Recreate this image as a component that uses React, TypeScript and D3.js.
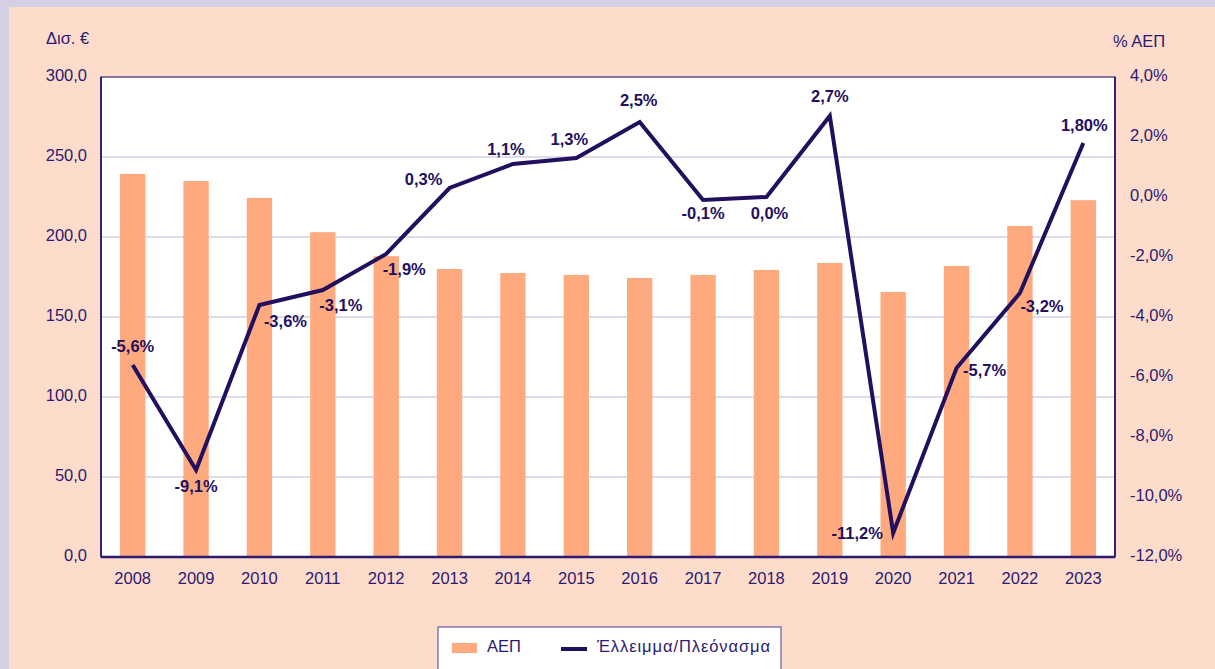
import { useEffect, useRef } from "react";
import * as d3 from "d3";

const years = ["2008", "2009", "2010", "2011", "2012", "2013", "2014", "2015", "2016", "2017", "2018", "2019", "2020", "2021", "2022", "2023"];
const gdp = [239.4, 235.0, 224.4, 203.0, 188.0, 180.0, 177.5, 176.3, 174.4, 176.3, 179.4, 183.8, 165.6, 181.9, 206.9, 223.0];
const balance = [-5.6, -9.1, -3.6, -3.1, -1.9, 0.3, 1.1, 1.3, 2.5, -0.1, 0.0, 2.7, -11.2, -5.7, -3.2, 1.8];
const balanceLabels = ["-5,6%", "-9,1%", "-3,6%", "-3,1%", "-1,9%", "0,3%", "1,1%", "1,3%", "2,5%", "-0,1%", "0,0%", "2,7%", "-11,2%", "-5,7%", "-3,2%", "1,80%"];
const leftTicks = [0, 50, 100, 150, 200, 250, 300];
const rightTicks = [-12, -10, -8, -6, -4, -2, 0, 2, 4];

// label placement relative to the point (layout only)
const labelOffsets: [number, number][] = [
  [0, -17], [0, 18], [26, 18], [18, 17], [18, 17], [-26, -7], [-7, -13], [-7, -17],
  [-1, -20], [0, 15], [3, 18], [0, -18], [-36, 2], [28, 4], [22, 15], [1, -16],
];

const W = 1215;
const H = 669;
const ink = "#2b1a6f";
const lineColor = "#22105f";
const barColor = "#ffa97f";
const font = "Liberation Sans, Arial, Helvetica, sans-serif";
const fs = 16.5;

const fmt = (d: number) => d3.format(".1f")(d).replace(".", ",").replace("−", "-");

export default function App() {
  const ref = useRef<SVGSVGElement>(null);

  useEffect(() => {
    const margin = { top: 77, right: 100, bottom: 112, left: 101 };
    const iw = W - margin.left - margin.right;
    const ih = H - margin.top - margin.bottom;

    const svg = d3.select(ref.current);
    svg.selectAll("*").remove();

    // background
    svg.append("rect").attr("width", W).attr("height", H).attr("fill", "#d5cfe6");
    svg.append("rect").attr("x", 9).attr("y", 7).attr("width", W - 9).attr("height", H - 7).attr("fill", "#fedccc");

    const chart = svg.append("g").attr("transform", `translate(${margin.left},${margin.top})`);
    chart.append("rect").attr("width", iw).attr("height", ih).attr("fill", "#fff");

    const x = d3.scaleBand().domain(years).range([0, iw]).paddingInner(0.6).paddingOuter(0.3);
    const yL = d3.scaleLinear().domain([0, 300]).range([ih, 0]);
    const yR = d3.scaleLinear().domain([-12, 4]).range([ih, 0]);

    // gridlines
    chart.selectAll(".grid").data(leftTicks.slice(1, -1)).enter().append("line")
      .attr("x1", 0).attr("x2", iw)
      .attr("y1", (d) => yL(d)).attr("y2", (d) => yL(d))
      .attr("stroke", "#d3cfe3").attr("stroke-width", 1.5);

    // bars
    chart.selectAll(".bar").data(gdp).enter().append("rect")
      .attr("x", (_, i) => x(years[i])!)
      .attr("y", (d) => yL(d))
      .attr("width", x.bandwidth())
      .attr("height", (d) => ih - yL(d))
      .attr("fill", barColor);

    // frame
    chart.append("rect").attr("width", iw).attr("height", ih).attr("fill", "none")
      .attr("stroke", "#3d2c80").attr("stroke-width", 1.2);
    chart.append("line").attr("x1", 0).attr("x2", iw).attr("y1", ih).attr("y2", ih)
      .attr("stroke", ink).attr("stroke-width", 2.5);
    chart.append("line").attr("x1", 0).attr("x2", 0).attr("y1", 0).attr("y2", ih)
      .attr("stroke", ink).attr("stroke-width", 1.8);
    chart.append("line").attr("x1", iw).attr("x2", iw).attr("y1", 0).attr("y2", ih)
      .attr("stroke", ink).attr("stroke-width", 1.8);

    // line
    const cx = (i: number) => x(years[i])! + x.bandwidth() / 2;
    const line = d3.line<number>().x((_, i) => cx(i)).y((d) => yR(d));
    chart.append("path").datum(balance).attr("d", line)
      .attr("fill", "none").attr("stroke", lineColor).attr("stroke-width", 4)
      .attr("stroke-linejoin", "miter");

    // line labels
    chart.selectAll(".lbl").data(balance).enter().append("text")
      .attr("x", (_, i) => cx(i) + labelOffsets[i][0])
      .attr("y", (d, i) => yR(d) + labelOffsets[i][1])
      .attr("text-anchor", "middle").attr("dominant-baseline", "middle")
      .attr("font-size", fs).attr("font-weight", "bold").attr("fill", lineColor)
      .attr("font-family", font)
      .text((_, i) => balanceLabels[i]);

    // left axis labels
    chart.selectAll(".lt").data(leftTicks).enter().append("text")
      .attr("x", -14).attr("y", (d) => yL(d))
      .attr("text-anchor", "end").attr("dominant-baseline", "middle")
      .attr("font-size", fs).attr("fill", ink).attr("font-family", font)
      .text((d) => fmt(d));

    // right axis labels
    chart.selectAll(".rt").data(rightTicks).enter().append("text")
      .attr("x", iw + 15).attr("y", (d) => yR(d))
      .attr("text-anchor", "start").attr("dominant-baseline", "middle")
      .attr("font-size", fs).attr("fill", ink).attr("font-family", font)
      .text((d) => fmt(d) + "%");

    // x labels
    chart.selectAll(".xt").data(years).enter().append("text")
      .attr("x", (d) => x(d)! + x.bandwidth() / 2).attr("y", ih + 23)
      .attr("text-anchor", "middle").attr("dominant-baseline", "middle")
      .attr("font-size", fs).attr("fill", ink).attr("font-family", font)
      .text((d) => d);

    // axis titles
    svg.append("text").attr("x", 46).attr("y", 40).attr("dominant-baseline", "middle")
      .attr("font-size", fs).attr("fill", ink).attr("font-family", font).text("Δισ. €");
    svg.append("text").attr("x", 1113).attr("y", 43).attr("dominant-baseline", "middle")
      .attr("font-size", fs).attr("fill", ink).attr("font-family", font).text("% ΑΕΠ");

    // legend
    const lg = svg.append("g").attr("transform", "translate(438,627)");
    lg.append("rect").attr("width", 343).attr("height", 50).attr("fill", "#fff")
      .attr("stroke", "#6a5aa0").attr("stroke-width", 1.2);
    lg.append("rect").attr("x", 14).attr("y", 16).attr("width", 25).attr("height", 10).attr("fill", barColor);
    lg.append("text").attr("x", 49).attr("y", 21).attr("dominant-baseline", "middle")
      .attr("font-size", fs).attr("fill", ink).attr("font-family", font).text("ΑΕΠ");
    lg.append("line").attr("x1", 123).attr("x2", 149).attr("y1", 22).attr("y2", 22)
      .attr("stroke", lineColor).attr("stroke-width", 4);
    lg.append("text").attr("x", 159).attr("y", 21).attr("dominant-baseline", "middle")
      .attr("font-size", fs).attr("fill", ink).attr("font-family", font)
      .attr("textLength", 173).attr("lengthAdjust", "spacing")
      .text("Έλλειμμα/Πλεόνασμα");
  }, []);

  return (
    <svg ref={ref} width={W} height={H} style={{ position: "fixed", left: 0, top: 0, display: "block" }} />
  );
}
